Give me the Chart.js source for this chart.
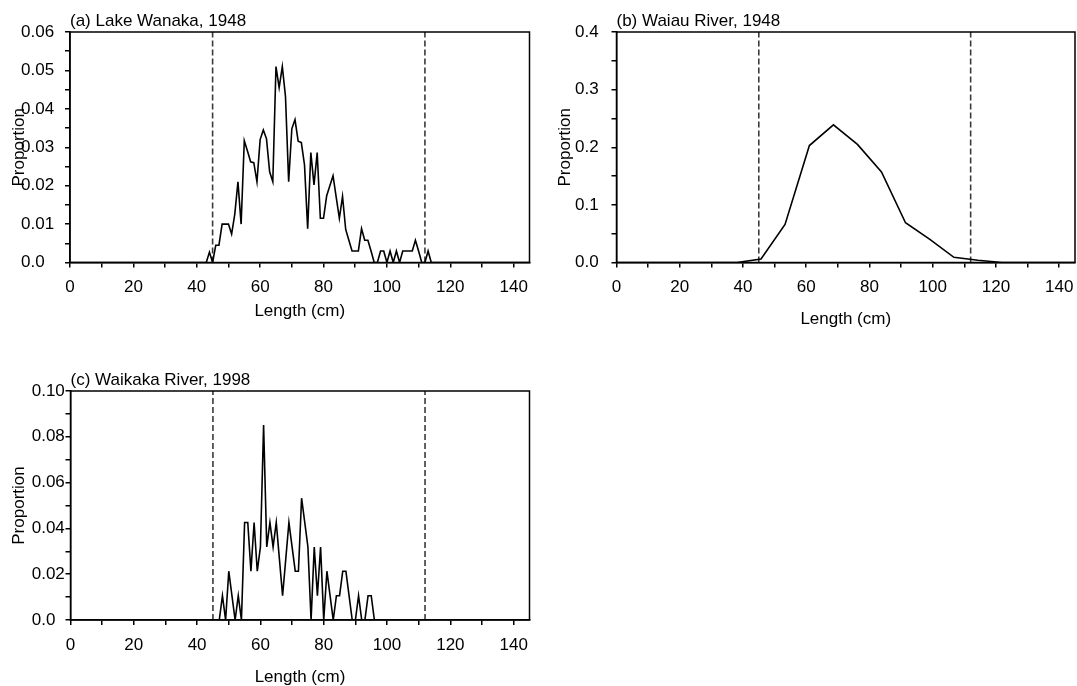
<!DOCTYPE html>
<html><head><meta charset="utf-8">
<script src="https://cdn.jsdelivr.net/npm/chart.js@4.4.1/dist/chart.umd.min.js"></script>
<style>
html,body{margin:0;padding:0;background:#fff;width:1077px;height:686px;overflow:hidden;}
canvas{position:absolute;}
</style></head><body>
<canvas id="ca" width="540" height="335" style="left:0;top:0;width:540px;height:335px"></canvas>
<canvas id="cb" width="531" height="335" style="left:546px;top:0;width:531px;height:335px"></canvas>
<canvas id="cc" width="540" height="346" style="left:0;top:340px;width:540px;height:346px"></canvas>
<script>
// ---- data (length in cm, proportion) ----
const lengthA = [0,42,43,44,45,46,47,48,49,50,51,52,53,54,55,56,57,58,59,60,61,62,63,64,65,66,67,68,69,70,71,72,73,74,75,76,77,78,79,80,81,82,83,84,85,86,87,88,89,90,91,92,93,94,95,96,97,98,99,100,101,102,103,104,105,106,107,108,109,110,111,112,113,114,145];
const propA   = [0,0,0,0.0027,0,0.0045,0.0045,0.0100,0.0100,0.0100,0.0074,0.0126,0.0210,0.0100,0.0317,0.029,0.0262,0.0260,0.0210,0.0320,0.0345,0.0322,0.0236,0.0210,0.0510,0.0455,0.0510,0.0432,0.0210,0.0348,0.0372,0.0316,0.0312,0.0254,0.0088,0.0286,0.0202,0.0286,0.0115,0.0115,0.0174,0.0200,0.0226,0.0170,0.0115,0.0172,0.0086,0.0058,0.003,0.003,0.003,0.0088,0.0058,0.0058,0.003,0,0,0.003,0.003,0,0.003,0,0.003,0,0.003,0.003,0.003,0.003,0.0058,0.003,0,0,0.003,0,0];

const lengthB = [0,38.1,45.7,53.3,61.0,68.6,76.2,83.8,91.4,99.1,106.7,114.3,121.9,145];
const propB   = [0,0,0.006,0.066,0.203,0.239,0.205,0.157,0.069,0.040,0.009,0.004,0,0];

const lengthC = [0,46,47,48,49,50,51,52,53,54,55,56,57,58,59,60,61,62,63,64,65,66,67,68,69,70,71,72,73,74,75,76,77,78,79,80,81,82,83,84,85,86,87,88,89,90,91,92,93,94,95,96,145];
const propC   = [0,0,0,0.0106,0,0.0213,0.0106,0,0.0106,0,0.0426,0.0426,0.0213,0.0426,0.0213,0.0319,0.0851,0.0319,0.0426,0.0319,0.0426,0.0266,0.0106,0.0266,0.0426,0.0319,0.0213,0.0213,0.0532,0.0426,0.0319,0,0.0319,0.0106,0.0319,0,0.0213,0.0106,0,0.0106,0.0106,0.0213,0.0213,0.0106,0,0,0.0106,0,0,0.0106,0.0106,0,0];

const cutoffs = [45, 112];           // dashed reference lengths (cm)
const xTickLabels = ['0','20','40','60','80','100','120','140'];
const yLabelsA = ['0.0','0.01','0.02','0.03','0.04','0.05','0.06'];
const yLabelsB = ['0.0','0.1','0.2','0.3','0.4'];
const yLabelsC = ['0.0','0.02','0.04','0.06','0.08','0.10'];
const titles = ['(a) Lake Wanaka, 1948','(b) Waiau River, 1948','(c) Waikaka River, 1998'];
const xTitle = 'Length (cm)';
const yTitle = 'Proportion';

// ---- rendering ----
const FAMILY = '"Liberation Sans", Arial, Helvetica, sans-serif';
const FS = 17;

const decor = {
  id: 'decor',
  afterDraw(chart, args, o) {
    const ctx = chart.ctx, a = chart.chartArea;
    ctx.save();
    ctx.strokeStyle = '#000'; ctx.lineWidth = 1.5;
    ctx.strokeRect(a.left, a.top, a.right - a.left, a.bottom - a.top);
    ctx.fillStyle = '#000';
    ctx.font = FS + 'px ' + FAMILY;
    ctx.textAlign = 'left'; ctx.textBaseline = 'alphabetic';
    ctx.fillText(o.title, a.left, a.top - 6);
    ctx.textAlign = 'center';
    ctx.fillText(o.xTitle, (a.left + a.right) / 2, a.bottom + o.xTitleOffset);
    ctx.translate(a.left - 51, (a.top + a.bottom) / 2);
    ctx.rotate(-Math.PI / 2);
    ctx.textBaseline = 'middle';
    ctx.fillText(o.yTitle, 0, 0);
    ctx.restore();
  }
};

function makeChart(id, xs, ys, yMax, yLabels, title, geo) {
  const step = yMax / (yLabels.length - 1) / 2;
  const datasets = [{
    data: xs.map((x, i) => ({x: x, y: ys[i]})),
    showLine: true, borderColor: '#000', borderWidth: 1.6, pointRadius: 0, tension: 0, fill: false
  }];
  cutoffs.forEach(c => datasets.push({
    data: [{x: c, y: 0}, {x: c, y: yMax}],
    showLine: true, borderColor: '#3a3a3a', borderWidth: 1.6, borderDash: [6, 3], pointRadius: 0
  }));
  return new Chart(document.getElementById(id), {
    type: 'scatter',
    data: {datasets},
    plugins: [decor],
    options: {
      responsive: false, animation: false, events: [],
      layout: {padding: {left: geo.padLeft, top: geo.padTop, right: geo.padRight, bottom: 0}},
      plugins: {legend: {display: false}, tooltip: {enabled: false}, title: {display: false},
        decor: {title: title, xTitle: xTitle, yTitle: yTitle, xTitleOffset: geo.xTitleOffset}},
      scales: {
        x: {
          type: 'linear', min: 0, max: 145,
          afterFit(s) { s.height = geo.xHeight; s.paddingLeft = 0; s.paddingRight = 0; },
          ticks: {stepSize: 10, includeBounds: false, autoSkip: false, maxRotation: 0, minRotation: 0,
            color: '#000', font: {family: FAMILY, size: FS}, padding: 10,
            callback: (v) => (Math.round(v) % 20 === 0 ? xTickLabels[Math.round(v) / 20] : '')},
          grid: {drawOnChartArea: false, drawTicks: true, tickLength: 5, color: '#000', lineWidth: 1.5},
          border: {display: true, color: '#000', width: 1.5}
        },
        y: {
          type: 'linear', min: 0, max: yMax,
          afterFit(s) { s.width = geo.yWidth; s.paddingTop = 0; s.paddingBottom = 0; },
          ticks: {stepSize: step, includeBounds: false, autoSkip: false, crossAlign: 'far',
            color: '#000', font: {family: FAMILY, size: FS},
            callback: (v, i) => (i % 2 === 0 ? yLabels[i / 2] : '')},
          grid: {drawOnChartArea: false, drawTicks: true, tickLength: 5, color: '#000', lineWidth: 1.5},
          border: {display: true, color: '#000', width: 1.5}
        }
      }
    }
  });
}

makeChart('ca', lengthA, propA, 0.06, yLabelsA, titles[0],
  {padLeft: 21, padTop: 32, padRight: 10.5, yWidth: 49, xHeight: 72.5, xTitleOffset: 53});
makeChart('cb', lengthB, propB, 0.4, yLabelsB, titles[1],
  {padLeft: 29, padTop: 32, padRight: 2, yWidth: 41.5, xHeight: 72.5, xTitleOffset: 61});
makeChart('cc', lengthC, propC, 0.10, yLabelsC, titles[2],
  {padLeft: 31.7, padTop: 51, padRight: 10.5, yWidth: 38.8, xHeight: 66, xTitleOffset: 62});
</script>
</body></html>
